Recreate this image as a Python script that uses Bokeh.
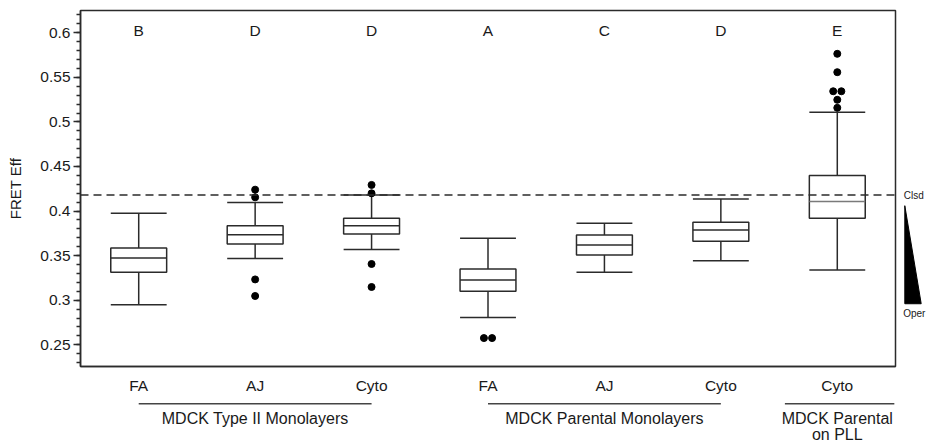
from bokeh.plotting import figure
from bokeh.layouts import row, column
from bokeh.models import Range1d, FixedTicker, Span, ColumnDataSource
from bokeh.embed import file_html
from bokeh.resources import INLINE
from bokeh.core.properties import value

# ---------------- data ----------------
CATEGORIES = ["FA", "AJ", "Cyto", "FA", "AJ", "Cyto", "Cyto"]
GROUPS = ["MDCK Type II Monolayers", "MDCK Parental Monolayers", "MDCK Parental\non PLL"]
GROUP_OF = [0, 0, 0, 1, 1, 1, 2]
LETTERS = ["B", "D", "D", "A", "C", "D", "E"]

LOWER = [0.2949, 0.3469, 0.3570, 0.2807, 0.3312, 0.3443, 0.3339]
Q1 = [0.3312, 0.3631, 0.3743, 0.3099, 0.3507, 0.3660, 0.3918]
MEDIAN = [0.3474, 0.3735, 0.3836, 0.3227, 0.3620, 0.3788, 0.4106]
Q3 = [0.3586, 0.3836, 0.3918, 0.3350, 0.3732, 0.3874, 0.4398]
UPPER = [0.3974, 0.4095, 0.4180, 0.3694, 0.3862, 0.4136, 0.5108]
OUTLIERS = [
    [],
    [0.4240, 0.4154, 0.3233, 0.3047],
    [0.4293, 0.4199, 0.3406, 0.3148],
    [0.2575, 0.2575],
    [],
    [],
    [0.5764, 0.5558, 0.5344, 0.5344, 0.5248, 0.5158],
]
CLOSED_REF = 0.418          # dashed "Clsd" reference level
Y_TICKS = [0.25, 0.3, 0.35, 0.4, 0.45, 0.5, 0.55, 0.6]
Y_LABELS = ["0.25", "0.3", "0.35", "0.4", "0.45", "0.5", "0.55", "0.6"]

# ---------------- layout / style ----------------
FONT = "Liberation Sans"
TEXT = "#1a1a1a"
LINE = "#2b2b2b"
BOX_W = 0.48
LETTER_Y = 0.6026
WEDGE_TOP, WEDGE_BOTTOM, OPER_Y = 0.406, 0.296, 0.2851
MEDIAN_COLORS = [LINE] * 6 + ["#7a7a7a"]

n = len(CATEGORIES)
xc = [i + 0.5 for i in range(n)]

x_range = Range1d(0, n)
y_range = Range1d(0.2256, 0.625)

main = figure(width=897, height=396, x_range=x_range, y_range=y_range,
              output_backend="svg", toolbar_location=None,
              min_border_left=80, min_border_right=2, min_border_top=10, min_border_bottom=30)
main.xgrid.visible = False
main.ygrid.visible = False
main.outline_line_color = LINE
main.outline_line_width = 1.5
main.outline_line_alpha = 1.0

yax = main.yaxis[0]
yax.ticker = FixedTicker(ticks=Y_TICKS, minor_ticks=[k / 100 for k in range(23, 63)])
yax.major_label_overrides = dict(zip(Y_TICKS, Y_LABELS))
yax.major_tick_out = 7
yax.major_tick_in = 0
yax.minor_tick_out = 4
yax.minor_tick_in = 0
yax.major_tick_line_color = LINE
yax.minor_tick_line_color = LINE
yax.major_tick_line_width = 1.3
yax.minor_tick_line_width = 1.3
yax.axis_line_color = LINE
yax.axis_line_width = 1.5
yax.major_label_standoff = 3
yax.major_label_text_font = FONT
yax.major_label_text_font_size = "15.5px"
yax.major_label_text_color = TEXT
yax.axis_label = "FRET Eff"
yax.axis_label_text_font = FONT
yax.axis_label_text_font_size = "15px"
yax.axis_label_text_font_style = "normal"
yax.axis_label_text_color = TEXT
yax.axis_label_standoff = 13

xax = main.xaxis[0]
xax.ticker = FixedTicker(ticks=xc, minor_ticks=[])
xax.major_label_overrides = dict(zip(xc, CATEGORIES))
xax.major_tick_out = 0
xax.major_tick_in = 0
xax.minor_tick_out = 0
xax.minor_tick_in = 0
xax.axis_line_color = LINE
xax.axis_line_width = 1.5
xax.major_label_standoff = 10
xax.major_label_text_font = FONT
xax.major_label_text_font_size = "15.5px"
xax.major_label_text_color = TEXT

src = ColumnDataSource(dict(
    x=xc, x0=[c - BOX_W / 2 for c in xc], x1=[c + BOX_W / 2 for c in xc],
    lower=LOWER, q1=Q1, med=MEDIAN, q3=Q3, upper=UPPER, mcol=MEDIAN_COLORS,
))

main.segment(x0="x", y0="q3", x1="x", y1="upper", line_color=LINE, line_width=1.5, source=src)
main.segment(x0="x", y0="q1", x1="x", y1="lower", line_color=LINE, line_width=1.5, source=src)
main.segment(x0="x0", y0="upper", x1="x1", y1="upper", line_color=LINE, line_width=1.5, source=src)
main.segment(x0="x0", y0="lower", x1="x1", y1="lower", line_color=LINE, line_width=1.5, source=src)
main.vbar(x="x", width=BOX_W, bottom="q1", top="q3", fill_color="white",
          line_color=LINE, line_width=1.5, source=src)
main.segment(x0="x0", y0="med", x1="x1", y1="med", line_color="mcol", line_width=1.5, source=src)

main.add_layout(Span(location=CLOSED_REF, dimension="width", line_color=LINE,
                     line_width=1.5, line_dash="8 5"))

# outliers: identical values are spread side by side
ox, oy = [], []
for i, vals in enumerate(OUTLIERS):
    seen = {}
    for v in vals:
        seen.setdefault(v, 0)
        seen[v] += 1
    for v, cnt in seen.items():
        for k in range(cnt):
            ox.append(xc[i] + (k - (cnt - 1) / 2) * 0.07)
            oy.append(v)
main.scatter(ox, oy, marker="circle", size=7, fill_color="black", line_color="black")

main.text(x=xc, y=[LETTER_Y] * n, text=LETTERS, text_align="center", text_baseline="middle",
          text_font=value(FONT), text_font_size="15.5px", text_color=TEXT)

# ---------------- group labels below ----------------
BOT_H = 49
bot = figure(width=897, height=BOT_H, x_range=x_range, y_range=Range1d(BOT_H, 0),
             x_axis_location=None, y_axis_location=None, output_backend="svg",
             toolbar_location=None, min_border_left=80, min_border_right=2,
             min_border_top=0, min_border_bottom=0)
bot.outline_line_color = None
bot.xgrid.visible = False
bot.ygrid.visible = False

gx0, gx1, gmid = [], [], []
for g in range(len(GROUPS)):
    idx = [i for i in range(n) if GROUP_OF[i] == g]
    a, b = xc[idx[0]], xc[idx[-1]]
    if len(idx) == 1:
        a, b = a - 0.45, b + 0.49
    gx0.append(a)
    gx1.append(b)
    gmid.append((xc[idx[0]] + xc[idx[-1]]) / 2)
bot.segment(x0=gx0, y0=[7.3] * len(GROUPS), x1=gx1, y1=[7.3] * len(GROUPS),
            line_color="#444444", line_width=1.5)
bot.text(x=gmid, y=[13] * len(GROUPS), text=GROUPS, text_align="center", text_baseline="top",
         text_font=value(FONT), text_font_size="16px", text_color=TEXT, text_line_height=0.95)

# ---------------- Clsd / Oper wedge on the right ----------------
rf = figure(width=30, height=396, x_range=Range1d(0, 30), y_range=y_range,
            x_axis_location=None, y_axis_location=None, output_backend="svg",
            toolbar_location=None, min_border_left=0, min_border_right=0,
            min_border_top=10, min_border_bottom=30)
rf.outline_line_color = None
rf.xgrid.visible = False
rf.ygrid.visible = False
rf.patch([7.3, 7.3, 23.7], [WEDGE_TOP, WEDGE_BOTTOM, WEDGE_BOTTOM], fill_color="black", line_color="black")
rf.text(x=[6.3], y=[CLOSED_REF], text=["Clsd"], text_align="left", text_baseline="middle",
        text_font=value(FONT), text_font_size="10px", text_color=TEXT)
rf.text(x=[5.7], y=[OPER_Y], text=["Oper"], text_align="left", text_baseline="middle",
        text_font=value(FONT), text_font_size="10px", text_color=TEXT)

layout = row(column(main, bot), rf)
open("out.html", "w").write(file_html(layout, INLINE))
